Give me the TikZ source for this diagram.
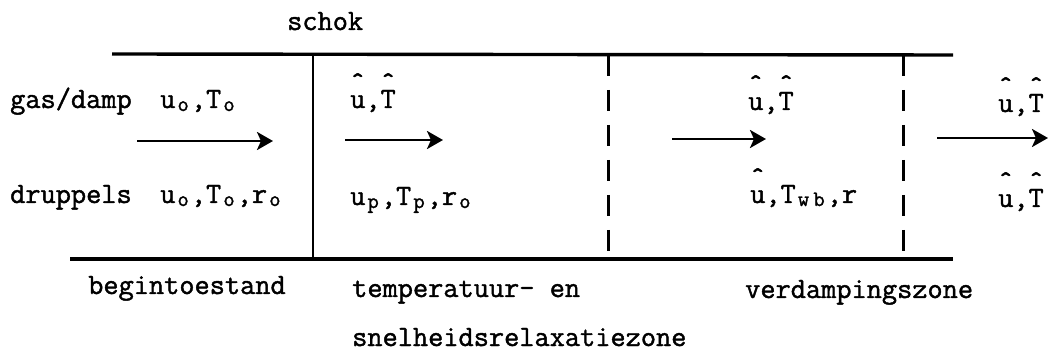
\documentclass[tikz,border=0pt]{standalone}
\usepackage{fontspec}
\setmonofont{Latin Modern Mono}[FakeBold=1.4]
\usetikzlibrary{arrows.meta,positioning}

% small lowered index, kept at full typewriter pitch
\newcommand\low[1]{\makebox[15.5pt][c]{\raisebox{-3pt}{\fontsize{22}{22}\selectfont #1}}}
% letter with a caret above
\newcommand\hatt[1]{\rlap{\raisebox{0.56em}{\char"02C6}}#1}

\begin{document}
\begin{tikzpicture} [
        x=1pt, y=-1pt,
        font=\ttfamily\fontsize{29.5}{32}\selectfont,
        every node/.style={anchor=base west, inner sep=0pt},
        wall/.style={line width=3.4pt},
        front/.style={line width=3pt, dash pattern=on 21pt off 14pt},
        flow/.style={line width=2.8pt, -{Stealth[length=16pt, width=18pt, inset=4pt]}}
    ]
    \useasboundingbox (0,0) rectangle (1049,355);

    % tube walls and zone borders
    \coordinate (tl) at (112,54);   \coordinate (tr) at (953,55);
    \coordinate (bl) at (70,259);   \coordinate (br) at (953,259);
    \coordinate (s1) at (313,54);   \coordinate (s2) at (313,259);
    \coordinate (d1) at (608,55);   \coordinate (d2) at (608,259);
    \coordinate (e1) at (903,55);   \coordinate (e2) at (903,259);

    \draw[wall]               (tl) -- (tr);
    \draw[wall]               (bl) -- (br);
    \draw[line width=2.8pt]   (s1) -- (s2);
    \draw[front]              (d1) -- (d2);
    \draw[front]              (e1) -- (e2);

    % flow arrows
    \coordinate (a1) at (137,141);  \coordinate (b1) at (273,141);
    \coordinate (a2) at (345,140);  \coordinate (b2) at (443,140);
    \coordinate (a3) at (672,139);  \coordinate (b3) at (766,139);
    \coordinate (a4) at (937,138);  \coordinate (b4) at (1048,138);

    \draw[flow] (a1) -- (b1);
    \draw[flow] (a2) -- (b2);
    \draw[flow] (a3) -- (b3);
    \draw[flow] (a4) -- (b4);

    % labels
    \node (schok)    at (287,30)    {schok};
    \node (gas)      at (10,108)    {gas/damp};
    \node (drup)     at (10,203)    {druppels};

    \node (gas0)     at (160,108)   {u\low{o},T\low{o}};
    \node (drup0)    at (160,203)   {u\low{o},T\low{o},r\low{o}};
    \node (gas1)     at (350,108)   {\hatt{u},\hatt{T}};
    \node (drup1)    at (350,205)   {u\low{p},T\low{p},r\low{o}};
    \node (gas2)     at (748,110)   {\hatt{u},\hatt{T}};
    \node (drup2)    at (750,203)   {\hatt{u},T\low{w}\low{b},r};
    \node (gas3)     at (998,112)   {\hatt{u},\hatt{T}};
    \node (drup3)    at (998,207)   {\hatt{u},\hatt{T}};

    \node (zone0)    at (88,294)    {begintoestand};
    \node (zone1)    at (352,297)   {temperatuur- en};
    \node (zone1b)   at (352,346)   {snelheidsrelaxatiezone};
    \node (zone2)    at (745,298)   {verdampingszone};
\end{tikzpicture}
\end{document}
